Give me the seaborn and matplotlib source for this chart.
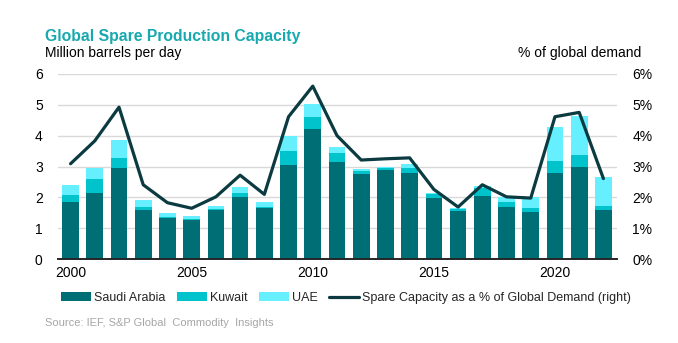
import matplotlib
matplotlib.use("Agg")
import matplotlib.pyplot as plt
from matplotlib.patches import Patch
from matplotlib.lines import Line2D
from matplotlib.ticker import FuncFormatter
import numpy as np
import pandas as pd
import seaborn as sns

years = list(range(2000, 2023))
saudi = [1.86, 2.16, 2.94, 1.61, 1.33, 1.27, 1.59, 2.03, 1.67, 3.05, 4.21, 3.14,
         2.75, 2.90, 2.80, 1.99, 1.57, 2.06, 1.70, 1.54, 2.78, 2.97, 1.59]
kuwait = [0.22, 0.43, 0.33, 0.09, 0.05, 0.02, 0.04, 0.10, 0.03, 0.45, 0.39, 0.30,
          0.11, 0.06, 0.14, 0.11, 0.06, 0.26, 0.16, 0.13, 0.41, 0.40, 0.13]
uae = [0.31, 0.37, 0.60, 0.23, 0.13, 0.12, 0.08, 0.22, 0.14, 0.49, 0.43, 0.18,
       0.07, 0.04, 0.13, 0.06, 0.04, 0.06, 0.16, 0.35, 1.08, 1.27, 0.95]
spare_pct = [3.09, 3.83, 4.92, 2.41, 1.83, 1.65, 2.02, 2.72, 2.10, 4.61, 5.60, 4.00,
             3.21, 3.25, 3.28, 2.26, 1.69, 2.41, 2.02, 1.98, 4.61, 4.75, 2.61]
xtick_years = [2000, 2005, 2010, 2015, 2020]

df = pd.DataFrame({"year": years, "saudi": saudi, "kuwait": kuwait,
                   "uae": uae, "pct": spare_pct})
df["lvl_kuwait"] = df["saudi"] + df["kuwait"]
df["lvl_uae"] = df["lvl_kuwait"] + df["uae"]

c_saudi = "#006F75"
c_kuwait = "#00C3CB"
c_uae = "#66F0FF"
c_line = "#0B3A40"
c_title = "#17A9B0"

sns.set_theme(style="white")
plt.rcParams["font.family"] = ["Liberation Sans", "DejaVu Sans"]

fig = plt.figure(figsize=(6.78, 3.43), dpi=100)
ax = fig.add_axes([0.0855, 0.244, 0.8245, 0.541])

# stacked bars: draw cumulative totals back to front
for col, colr in [("lvl_uae", c_uae), ("lvl_kuwait", c_kuwait), ("saudi", c_saudi)]:
    sns.barplot(data=df, x="year", y=col, native_scale=True, color=colr,
                saturation=1, width=0.69, edgecolor="none", linewidth=0, ax=ax)

ax.set_ylim(0, 6)
ax.set_xlim(1999.48, 2022.56)
ax.set_yticks(range(0, 7))
ax.set_xticks(xtick_years)
ax.set_xlabel("")
ax.set_ylabel("")
ax.yaxis.grid(True, color="#D9D9D9", linewidth=1.0)
ax.set_axisbelow(True)
for s in ["top", "left", "right"]:
    ax.spines[s].set_visible(False)
ax.spines["bottom"].set_color("#262626")
ax.spines["bottom"].set_linewidth(1.4)
ax.tick_params(axis="both", length=0, labelsize=10, colors="#000000")
ax.tick_params(axis="y", pad=11)
ax.tick_params(axis="x", pad=5)

ax2 = ax.twinx()
sns.lineplot(data=df, x="year", y="pct", color=c_line, linewidth=2.3, ax=ax2)
ax2.set_ylim(0, 6)
ax2.set_yticks(range(0, 7))
ax2.yaxis.set_major_formatter(FuncFormatter(lambda v, p: f"{int(v)}%"))
ax2.set_ylabel("")
ax2.set_xlabel("")
for s in ax2.spines.values():
    s.set_visible(False)
ax2.tick_params(axis="y", length=0, labelsize=10, pad=11, colors="#000000")
ax2.grid(False)
ax.set_xlim(1999.48, 2022.56)

fig.text(0.066, 0.895, "Global Spare Production Capacity", fontsize=11.3,
         fontweight="bold", color=c_title, va="center", ha="left")
fig.text(0.066, 0.845, "Million barrels per day", fontsize=10, color="#000000",
         va="center", ha="left")
fig.text(0.946, 0.845, "% of global demand", fontsize=10, color="#000000",
         va="center", ha="right")

handles = [Patch(facecolor=c_saudi, edgecolor="none"),
           Patch(facecolor=c_kuwait, edgecolor="none"),
           Patch(facecolor=c_uae, edgecolor="none"),
           Line2D([0], [0], color=c_line, linewidth=2.3)]
labels = ["Saudi Arabia", "Kuwait", "UAE", "Spare Capacity as a % of Global Demand (right)"]
fig.legend(handles, labels, loc="center", bbox_to_anchor=(0.51, 0.131), ncol=4,
           frameon=False, fontsize=9, handlelength=2.4, handleheight=0.7,
           handletextpad=0.25, columnspacing=0.9)

fig.text(0.066, 0.058, "Source: IEF, S&P Global  Commodity  Insights", fontsize=8,
         color="#A6A6A6", va="center", ha="left")

fig.savefig("out.png", dpi=100)
